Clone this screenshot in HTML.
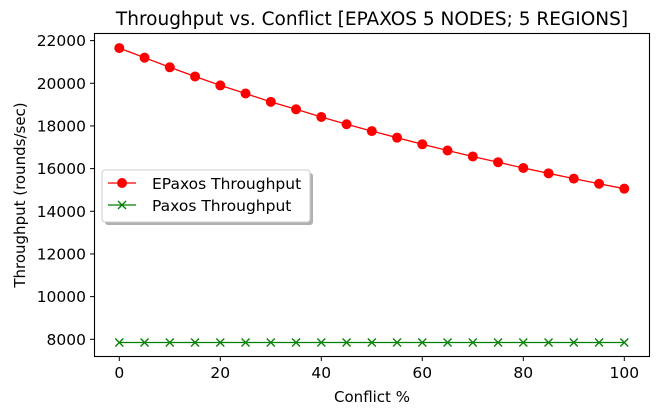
<!DOCTYPE html>
<html><head><meta charset="utf-8"><style>
html,body{margin:0;padding:0;background:#fff;}
svg{display:block;font-family:"DejaVu Sans","Liberation Sans",sans-serif;}
</style></head><body>
<svg id="chart" width="662" height="411" viewBox="0 0 662 411" xmlns="http://www.w3.org/2000/svg">
<rect width="662" height="411" fill="#fff"/>
<text x="372" y="25" text-anchor="middle" font-size="18.5" fill="#000">Throughput vs. Conflict [EPAXOS 5 NODES; 5 REGIONS]</text>
<g id="grid"></g>
<g id="series"></g>
<rect x="94.5" y="33.5" width="555" height="323" fill="none" stroke="#000" stroke-width="1.1"/>
<text x="372" y="402" text-anchor="middle" font-size="15">Conflict %</text>
<text transform="translate(25,195) rotate(-90)" text-anchor="middle" font-size="15">Throughput (rounds/sec)</text>
<g>
<rect x="105" y="173" width="208" height="52" rx="3" fill="#b0b0b0"/>
<rect x="102" y="170" width="208" height="52" rx="3" fill="#fff" stroke="#ccc"/>
<g>
<line x1="108" y1="183" x2="136" y2="183" stroke="red" stroke-width="1.3"/>
<circle cx="122" cy="183" r="5" fill="red"/>
<text x="152" y="189" font-size="15.5">EPaxos Throughput</text>
</g>
<g>
<line x1="108" y1="205" x2="136" y2="205" stroke="green" stroke-width="1.3"/>
<path d="M118,201 l8,8 M126,201 l-8,8" stroke="green" stroke-width="1.3"/>
<text x="152" y="211" font-size="15.5">Paxos Throughput</text>
</g>
</g>
</svg>
<script>
const conflict = [0,5,10,15,20,25,30,35,40,45,50,55,60,65,70,75,80,85,90,95,100];
const epaxos = [21650,21200,20750,20320,19900,19520,19130,18780,18420,18080,17760,17450,17140,16850,16570,16300,16030,15780,15530,15290,15060];
const paxos = [7850,7850,7850,7850,7850,7850,7850,7850,7850,7850,7850,7850,7850,7850,7850,7850,7850,7850,7850,7850,7850];
const xTicks = [0,20,40,60,80,100];
const yTicks = [8000,10000,12000,14000,16000,18000,20000,22000];

const NS='http://www.w3.org/2000/svg';
function xs(v){return 119.3 + v*5.05;}
function ys(v){return 339.3 - (v-8000)*42.67/2000;}
function mk(tag,attrs,parent){const e=document.createElementNS(NS,tag);for(const k in attrs)e.setAttribute(k,attrs[k]);parent.appendChild(e);return e;}
const grid=document.getElementById('grid'), series=document.getElementById('series');
xTicks.forEach(t=>{
  const l=mk('line',{x1:xs(t),x2:xs(t),y1:356.5,y2:361,stroke:'#000'},grid);
  
  
  const tx=mk('text',{x:xs(t),y:378,'text-anchor':'middle','font-size':15.5},grid);
  tx.textContent=t;
  
  
});
yTicks.forEach(t=>{
  const l=mk('line',{x1:90,x2:94.5,y1:ys(t),y2:ys(t),stroke:'#000'},grid);
  
  
  const tx=mk('text',{x:86,y:ys(t)+5.5,'text-anchor':'end','font-size':15.5},grid);
  tx.textContent=t;
  
  
});
const pe=mk('polyline',{points:conflict.map((c,i)=>xs(c)+','+ys(epaxos[i])).join(' '),fill:'none',stroke:'red','stroke-width':1.3},series);


const pp=mk('polyline',{points:conflict.map((c,i)=>xs(c)+','+ys(paxos[i])).join(' '),fill:'none',stroke:'green','stroke-width':1.3},series);


conflict.forEach((c,i)=>{
  const p=mk('circle',{cx:xs(c),cy:ys(epaxos[i]),r:5,fill:'red'},series);
  
  
  const x=xs(c), y=ys(paxos[i]);
  const m=mk('path',{d:`M${x-4},${y-4} L${x+4},${y+4} M${x+4},${y-4} L${x-4},${y+4}`,stroke:'green','stroke-width':1.3},series);
  
  
});
</script>
</body></html>
